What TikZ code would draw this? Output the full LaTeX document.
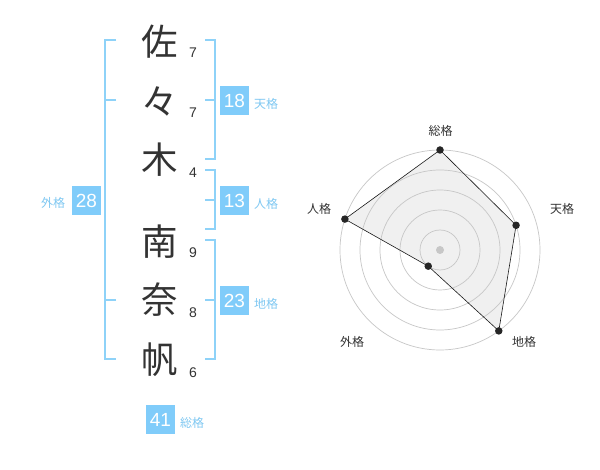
\documentclass[tikz,border=0pt]{standalone}
\usetikzlibrary{calc}
\usepackage{fontspec}
\setmainfont{Liberation Sans}
\newfontfamily\cjk{Noto Sans CJK JP}
\begin{document}
\begin{tikzpicture}[x=1pt,y=-1pt,
  kanji/.style={font=\cjk\fontsize{36.5}{36.5}\selectfont, text=black!80, inner sep=0pt},
  strokes/.style={font=\fontsize{14}{14}\selectfont, text=black!80, inner sep=0pt},
  numbox/.style={fill=boxblue, text=white, minimum width=29pt, minimum height=29pt, inner sep=0pt, font=\fontsize{19}{19}\selectfont},
  kaku/.style={font=\cjk\fontsize{12}{12}\selectfont, text=labblue, inner sep=0pt},
  brk/.style={draw=brkblue, line width=2pt},
  ring/.style={draw=black!22, line width=0.7pt},
  rlab/.style={font=\cjk\fontsize{12}{12}\selectfont, text=black!80, inner sep=0pt},
  dot/.style={circle, fill=black!85, inner sep=0pt, minimum size=7.5pt}
]
\definecolor{boxblue}{HTML}{80CCFA}
\definecolor{brkblue}{HTML}{8ED2F8}
\definecolor{labblue}{HTML}{7FC8F2}
\useasboundingbox (0,0) rectangle (600,470);
\fill[white] (0,0) rectangle (600,470);

% kanji
\node[kanji] (k1) at (160,42) {佐};
\node[kanji] (k2) at (160,101) {々};
\node[kanji] (k3) at (160,160) {木};
\node[kanji] (k4) at (160,242) {南};
\node[kanji] (k5) at (160,300) {奈};
\node[kanji] (k6) at (160,360) {帆};

\node[strokes] (s1) at (193,53) {7};
\node[strokes] (s2) at (193,113) {7};
\node[strokes] (s3) at (193,173) {4};
\node[strokes] (s4) at (193,253) {9};
\node[strokes] (s5) at (193,313) {8};
\node[strokes] (s6) at (193,373) {6};

% left bracket (gaikaku)
\coordinate (la) at (116,40);
\coordinate (lb) at (116,100);
\coordinate (lc) at (116,300);
\coordinate (ld) at (116,359);
\draw[brk] (la) -- (105,40) -- (105,359) -- (ld);
\draw[brk] (lb) -- (105,100);
\draw[brk] (lc) -- (105,300);
\node[numbox] (b28) at (86.5,200.5) {28};
\node[kaku] (g28) at (53,202.5) {外格};

% tenkaku bracket
\coordinate (ta) at (205,40);
\coordinate (tb) at (205,159);
\draw[brk] (ta) -- (214.5,40) -- (214.5,159) -- (tb);
\draw[brk] (205,100) -- (214.5,100);
\node[numbox] (b18) at (234.5,100.5) {18};
\node[kaku] (g18) at (266,103.5) {天格};

% jinkaku bracket
\coordinate (ja) at (205,170);
\coordinate (jb) at (205,229);
\draw[brk] (ja) -- (214.5,170) -- (214.5,229) -- (jb);
\draw[brk] (205,200) -- (214.5,200);
\node[numbox] (b13) at (234.5,200.5) {13};
\node[kaku] (g13) at (266,203.5) {人格};

% chikaku bracket
\coordinate (ca) at (205,240);
\coordinate (cb) at (205,359);
\draw[brk] (ca) -- (214.5,240) -- (214.5,359) -- (cb);
\draw[brk] (205,300) -- (214.5,300);
\node[numbox] (b23) at (234.5,300.5) {23};
\node[kaku] (g23) at (266,303.5) {地格};

% sokaku
\node[numbox] (b41) at (160.5,419.5) {41};
\node[kaku] (g41) at (192,422.5) {総格};

% radar chart
\begin{scope}[shift={(440,250)}, yscale=-1]
  \coordinate (O) at (0,0);
  \coordinate (pS) at (90:100);
  \coordinate (pT) at (18:80);
  \coordinate (pC) at (-54:100);
  \coordinate (pG) at (-126:20);
  \coordinate (pJ) at (162:100);
  \fill[black!6] (pS) -- (pT) -- (pC) -- (pG) -- (pJ) -- cycle;
  \foreach \r in {20,40,60,80,100} \draw[ring] (O) circle[radius=\r pt];
  \fill[black!22] (O) circle[radius=4pt];
  \draw[black!90, line width=0.6pt] (pS) -- (pT) -- (pC) -- (pG) -- (pJ) -- cycle;
  \foreach \p in {pS,pT,pC,pG,pJ} \node[dot] at (\p) {};
\end{scope}
\node[rlab] (lS) at (440.5,130.5) {総格};
\node[rlab] (lT) at (562,209) {天格};
\node[rlab] (lJ) at (319,209) {人格};
\node[rlab] (lG) at (352,342) {外格};
\node[rlab] (lC) at (524,342) {地格};
\end{tikzpicture}
\end{document}
